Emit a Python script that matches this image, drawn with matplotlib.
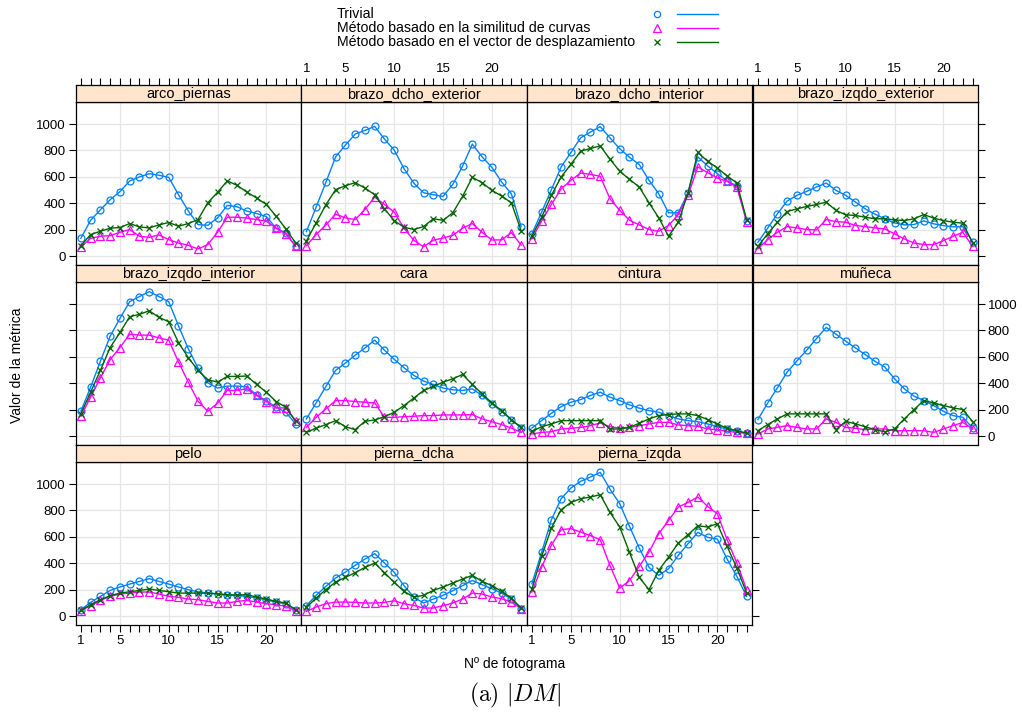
import matplotlib
matplotlib.use("Agg")
import matplotlib.pyplot as plt
from matplotlib.lines import Line2D

plt.rcParams["font.family"] = ["Liberation Sans", "DejaVu Sans"]
plt.rcParams["mathtext.fontset"] = "cm"

W, H = 1022, 715
BLUE, MAG, GRN = "#0080ff", "#ff00ff", "#006400"
STRIP_C, GRID_C = "#ffe5cc", "#e6e6e6"

frames = list(range(1, 24))
panels = ["arco_piernas", "brazo_dcho_exterior", "brazo_dcho_interior", "brazo_izqdo_exterior",
          "brazo_izqdo_interior", "cara", "cintura", "muñeca",
          "pelo", "pierna_dcha", "pierna_izqda"]
xticks = list(range(1, 24))
xlabels = [1, 5, 10, 15, 20]
yticks = [0, 200, 400, 600, 800, 1000]
xgrid = [5, 10, 15, 20]
series_names = ["Trivial", "Método basado en la similitud de curvas",
                "Método basado en el vector de desplazamiento"]

trivial = {
    "arco_piernas": [137, 273, 352, 428, 489, 570, 600, 625, 613, 597, 466, 344, 240, 235, 291, 385, 375, 342, 324, 301, 213, 175, 78],
    "brazo_dcho_exterior": [187, 372, 560, 752, 841, 924, 952, 982, 886, 803, 663, 554, 481, 466, 453, 544, 681, 848, 752, 673, 562, 473, 225],
    "brazo_dcho_interior": [170, 334, 504, 676, 785, 896, 939, 980, 896, 813, 749, 694, 575, 473, 329, 329, 481, 752, 684, 625, 570, 532, 271],
    "brazo_izqdo_exterior": [106, 213, 322, 418, 461, 491, 524, 554, 499, 461, 410, 359, 319, 284, 253, 238, 241, 268, 246, 233, 223, 225, 111],
    "brazo_izqdo_interior": [190, 372, 567, 757, 891, 1018, 1056, 1094, 1056, 1018, 835, 663, 516, 405, 365, 380, 380, 375, 314, 268, 220, 182, 94],
    "cara": [132, 253, 377, 499, 554, 613, 668, 727, 651, 582, 519, 461, 418, 392, 365, 352, 347, 359, 309, 246, 187, 127, 63],
    "cintura": [63, 119, 175, 225, 258, 278, 309, 334, 296, 271, 238, 213, 195, 182, 157, 132, 119, 111, 94, 73, 56, 38, 23],
    "muñeca": [127, 251, 367, 486, 570, 651, 739, 823, 772, 719, 668, 618, 567, 524, 435, 359, 304, 271, 233, 190, 157, 144, 63],
    "pelo": [50, 106, 151, 196, 222, 244, 264, 285, 264, 244, 222, 202, 186, 176, 171, 159, 159, 151, 139, 126, 108, 96, 50],
    "pierna_dcha": [81, 159, 227, 290, 335, 386, 433, 474, 403, 333, 232, 146, 101, 131, 159, 194, 232, 272, 239, 209, 176, 131, 58],
    "pierna_izqda": [247, 484, 730, 889, 970, 1020, 1053, 1088, 962, 851, 680, 516, 370, 310, 360, 461, 549, 635, 597, 584, 433, 302, 151],
}
curvas = {
    "arco_piernas": [71, 137, 152, 157, 182, 203, 152, 144, 162, 127, 101, 84, 56, 89, 182, 296, 296, 289, 278, 266, 213, 170, 76],
    "brazo_dcho_exterior": [81, 165, 238, 319, 291, 278, 354, 448, 392, 334, 213, 122, 73, 122, 139, 159, 213, 248, 182, 124, 124, 180, 86],
    "brazo_dcho_interior": [132, 268, 392, 511, 575, 630, 620, 605, 435, 347, 273, 238, 203, 190, 233, 316, 461, 676, 633, 592, 567, 524, 263],
    "brazo_izqdo_exterior": [56, 127, 182, 225, 215, 203, 200, 278, 263, 258, 233, 225, 215, 208, 170, 132, 101, 89, 89, 119, 152, 182, 76],
    "brazo_izqdo_interior": [152, 296, 443, 580, 671, 772, 765, 765, 744, 727, 562, 410, 266, 190, 251, 347, 347, 359, 309, 263, 215, 215, 119],
    "cara": [68, 144, 208, 271, 271, 263, 258, 253, 144, 144, 149, 152, 157, 157, 162, 162, 162, 165, 132, 111, 89, 63, 30],
    "cintura": [18, 30, 35, 56, 61, 68, 81, 101, 73, 63, 68, 81, 94, 106, 106, 86, 81, 76, 56, 51, 38, 30, 23],
    "muñeca": [18, 56, 68, 81, 68, 56, 56, 132, 106, 68, 61, 51, 56, 56, 43, 43, 43, 43, 30, 56, 81, 106, 56],
    "pelo": [43, 81, 121, 151, 169, 176, 184, 184, 169, 151, 144, 131, 126, 113, 101, 101, 113, 121, 108, 96, 88, 76, 43],
    "pierna_dcha": [38, 71, 96, 108, 108, 106, 101, 101, 106, 118, 96, 83, 63, 63, 81, 101, 131, 176, 169, 146, 134, 108, 58],
    "pierna_izqda": [184, 370, 539, 655, 663, 637, 610, 579, 385, 214, 270, 378, 486, 625, 725, 826, 861, 902, 831, 776, 579, 403, 202],
}
desplaz = {
    "arco_piernas": [81, 165, 190, 213, 218, 248, 223, 215, 238, 256, 228, 248, 278, 405, 484, 570, 537, 486, 441, 392, 304, 208, 101],
    "brazo_dcho_exterior": [116, 253, 390, 504, 534, 557, 516, 466, 359, 271, 220, 203, 225, 284, 273, 329, 453, 597, 557, 499, 456, 405, 195],
    "brazo_dcho_interior": [152, 296, 461, 600, 696, 795, 815, 835, 734, 643, 582, 524, 405, 291, 152, 258, 481, 785, 719, 668, 608, 554, 276],
    "brazo_izqdo_exterior": [76, 170, 258, 339, 359, 377, 392, 410, 347, 314, 309, 296, 284, 284, 276, 271, 284, 316, 289, 271, 258, 251, 101],
    "brazo_izqdo_interior": [170, 334, 499, 671, 785, 904, 922, 949, 899, 866, 709, 595, 499, 428, 410, 453, 453, 456, 392, 334, 263, 220, 114],
    "cara": [30, 63, 89, 119, 73, 51, 114, 124, 149, 182, 233, 289, 347, 377, 410, 435, 468, 392, 322, 253, 195, 127, 68],
    "cintura": [38, 73, 94, 119, 119, 119, 119, 119, 56, 56, 68, 99, 132, 157, 165, 170, 170, 157, 127, 94, 61, 43, 25],
    "muñeca": [43, 89, 132, 170, 170, 170, 170, 170, 51, 114, 94, 73, 51, 35, 56, 132, 203, 271, 253, 233, 215, 203, 111],
    "pelo": [45, 88, 126, 156, 176, 186, 196, 207, 196, 186, 176, 176, 176, 176, 169, 164, 161, 164, 146, 131, 113, 101, 50],
    "pierna_dcha": [68, 139, 202, 260, 295, 330, 370, 403, 330, 257, 189, 146, 159, 196, 222, 252, 282, 310, 264, 232, 189, 139, 63],
    "pierna_izqda": [207, 453, 668, 806, 861, 889, 902, 919, 786, 675, 484, 295, 202, 348, 448, 554, 617, 685, 675, 700, 529, 365, 176],
}

fig = plt.figure(figsize=(W / 100, H / 100), dpi=100)

col_left = [75.5, 301.0, 526.5, 752.5]
col_w = 225.5
row_top = [85.0, 265.0, 445.0]
strip_h = 16.5
plot_h = 163.5
XLIM = (0.45, 23.55)
FS_TICK = 9.5


def fig_rect(x, y, w, h):
    return [x / W, 1 - (y + h) / H, w / W, h / H]


def xtick_labels():
    return [str(t) if t in xlabels else "" for t in xticks]


for k, name in enumerate(panels):
    r, c = divmod(k, 4)
    x0, y0 = col_left[c], row_top[r]
    ax = fig.add_axes(fig_rect(x0, y0 + strip_h, col_w, plot_h))
    for gx in xgrid:
        ax.axvline(gx, color=GRID_C, lw=0.9, zorder=0)
    for gy in yticks:
        ax.axhline(gy, color=GRID_C, lw=0.9, zorder=0)
    ax.plot(frames, trivial[name], color=BLUE, lw=1.0, marker="o", ms=5, mfc="none", mew=0.9)
    ax.plot(frames, curvas[name], color=MAG, lw=1.0, marker="^", ms=6, mfc="none", mew=0.9)
    ax.plot(frames, desplaz[name], color=GRN, lw=1.0, marker="x", ms=5, mew=0.9)
    ax.set_xlim(*XLIM)
    ax.set_ylim(-65, 1170)
    for s in ax.spines.values():
        s.set_color("black"); s.set_linewidth(0.9)

    # x axis at the bottom only on the last row
    ax.set_xticks(xticks)
    ax.set_xticklabels(xtick_labels())
    bottom = r == 2
    ax.tick_params(axis="x", direction="out", length=5, width=0.8, labelsize=FS_TICK,
                   top=False, bottom=bottom, labelbottom=bottom and c in (0, 2), pad=2)

    # y axis
    ax.set_yticks(yticks)
    ax.set_yticklabels([str(t) for t in yticks])
    last_in_row = (c == 3) or (k == len(panels) - 1)
    ax.tick_params(axis="y", direction="out", length=5, width=0.8, labelsize=FS_TICK,
                   left=(c == 0), labelleft=(c == 0 and r != 1),
                   right=last_in_row, labelright=(last_in_row and r == 1), pad=2)

    # strip, carrying the top axis on the first row
    sax = fig.add_axes(fig_rect(x0, y0, col_w, strip_h))
    sax.set_facecolor(STRIP_C)
    sax.set_xlim(*XLIM)
    sax.set_yticks([])
    if r == 0:
        sax.set_xticks(xticks)
        sax.set_xticklabels(xtick_labels())
        sax.tick_params(axis="x", direction="out", length=5, width=0.8, labelsize=FS_TICK,
                        top=True, bottom=False, labelbottom=False, labeltop=c in (1, 3), pad=2)
    else:
        sax.set_xticks([])
    for s in sax.spines.values():
        s.set_color("black"); s.set_linewidth(0.9)
    sax.text(0.5, 0.45, name, ha="center", va="center", fontsize=10.5, transform=sax.transAxes)

# legend (lattice key style: text, symbol, line)
leg_y = [14, 28, 42]
styles = [(BLUE, "o", 5), (MAG, "^", 6), (GRN, "x", 5)]
for lab, yy, (col, mk, ms) in zip(series_names, leg_y, styles):
    fig.text(337 / W, 1 - yy / H, lab, ha="left", va="center", fontsize=10.2)
    fig.add_artist(Line2D([657 / W], [1 - yy / H], transform=fig.transFigure, color=col,
                          marker=mk, ms=ms - 0.5, mfc="none", mew=0.9, lw=0))
    fig.add_artist(Line2D([677 / W, 718 / W], [1 - yy / H, 1 - yy / H],
                          transform=fig.transFigure, color=col, lw=1.0))

fig.text(17 / W, 1 - 365 / H, "Valor de la métrica", rotation=90, ha="center", va="center", fontsize=10)
fig.text(515 / W, 1 - 664 / H, "Nº de fotograma", ha="center", va="center", fontsize=10)
fig.text(515 / W, 1 - 695 / H, r"$\mathrm{(a)}\ |DM|$", ha="center", va="center", fontsize=17)

fig.savefig("out.png", dpi=100)
